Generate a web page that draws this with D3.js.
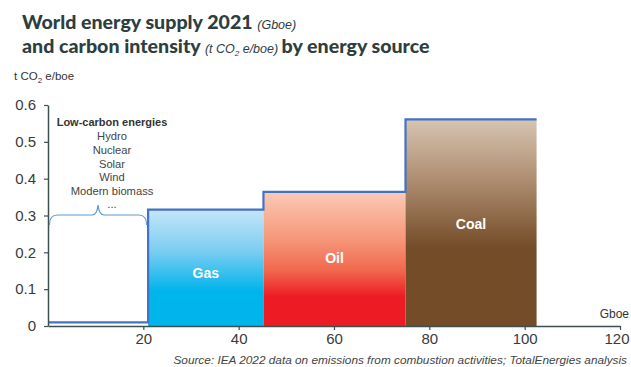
<!DOCTYPE html>
<html><head><meta charset="utf-8">
<script src="https://cdn.jsdelivr.net/npm/d3@7"></script>
<style>body{margin:0;background:#fff}svg{display:block}</style>
</head><body>
<svg id="c" width="631" height="367"></svg>
<script>
const sources = ["Low-carbon", "Gas", "Oil", "Coal"];
const supply = [21, 24.2, 29.8, 27.5];           // Gboe (bar widths)
const intensity = [0.01, 0.316, 0.364, 0.561];   // t CO2e/boe
const labels = ["", "Gas", "Oil", "Coal"];
const xTicks = [20, 40, 60, 80, 100, 120];
const yTicks = [0, 0.1, 0.2, 0.3, 0.4, 0.5, 0.6];
const lowCarbonList = ["Hydro", "Nuclear", "Solar", "Wind", "Modern biomass", "..."];

const svg = d3.select("#c");
const x = d3.scaleLinear().domain([0, 120]).range([48, 620]);
const y = d3.scaleLinear().domain([0, 0.6]).range([326, 105]);
const sans = "Liberation Sans, Arial, sans-serif";

const starts = [];
let acc = 0;
supply.forEach(v => { starts.push(acc); acc += v; });
const data = sources.map((s, i) => ({s, x0: starts[i], x1: starts[i] + supply[i], v: intensity[i], label: labels[i]}));

// gradients
const defs = svg.append("defs");
const grads = {
  Gas: [["0%", "#c4e6f8"], ["35%", "#7dcdf2"], ["70%", "#00b4ec"], ["100%", "#00b4ec"]],
  Oil: [["0%", "#fbcab6"], ["35%", "#f6977a"], ["58%", "#f16a4f"], ["78%", "#ed1c24"], ["100%", "#ed1c24"]],
  Coal: [["0%", "#d6c4b2"], ["30%", "#ad8c6f"], ["62%", "#744c28"], ["100%", "#744c28"]]
};
Object.entries(grads).forEach(([k, stops]) => {
  const g = defs.append("linearGradient").attr("id", "g" + k).attr("x1", 0).attr("y1", 0).attr("x2", 0).attr("y2", 1);
  stops.forEach(([o, c]) => g.append("stop").attr("offset", o).attr("stop-color", c));
});

// bars
svg.append("g").selectAll("rect").data(data.filter(d => d.s !== "Low-carbon")).join("rect")
  .attr("x", d => x(d.x0)).attr("width", d => x(d.x1) - x(d.x0))
  .attr("y", d => y(d.v)).attr("height", d => y(0) - y(d.v))
  .attr("fill", d => `url(#g${d.s})`);

// step outline
let p = d3.path();
p.moveTo(x(0), y(data[0].v));
data.forEach((d, i) => {
  if (i > 0) p.lineTo(x(d.x0), y(d.v));
  p.lineTo(x(d.x1), y(d.v));
});
svg.append("path").attr("d", p.toString()).attr("fill", "none")
  .attr("stroke", "#4472c4").attr("stroke-width", 2.2);

// bar labels
svg.append("g").selectAll("text").data(data.filter(d => d.label)).join("text")
  .attr("x", d => (x(d.x0) + x(d.x1)) / 2)
  .attr("y", d => ({Gas: 278, Oil: 263, Coal: 229})[d.s])
  .attr("text-anchor", "middle").attr("fill", "#fff")
  .attr("font-family", sans).attr("font-weight", "bold").attr("font-size", 14)
  .text(d => d.label);

// axes
const axisColor = "#3d4f4f";
const gy = svg.append("g").attr("transform", `translate(${x(0)},0)`)
  .call(d3.axisLeft(y).tickValues(yTicks).tickSize(4).tickSizeOuter(0).tickPadding(8).tickFormat(d => d === 0 ? "0" : d3.format(".1f")(d)));
const gx = svg.append("g").attr("transform", `translate(0,${y(0)})`)
  .call(d3.axisBottom(x).tickValues(xTicks).tickSize(4).tickSizeOuter(0).tickPadding(3));
[gx, gy].forEach(g => {
  g.select(".domain").attr("stroke", axisColor).attr("stroke-width", 1.5);
  g.selectAll(".tick line").attr("stroke", axisColor).attr("stroke-width", 1.2);
  g.selectAll(".tick text").attr("fill", "#3a3a3a").attr("font-size", 15).attr("font-family", sans);
});
gx.selectAll(".tick text").filter(d => d === 120).attr("text-anchor", "end").attr("x", 9);

// axis titles
const yl = svg.append("text").attr("x", 14).attr("y", 80).attr("fill", "#333")
  .attr("font-family", sans).attr("font-size", 11.5);
yl.append("tspan").text("t CO");
yl.append("tspan").attr("font-size", 8).attr("dy", 3).text("2");
yl.append("tspan").attr("dy", -3).text(" e/boe");
svg.append("text").attr("x", 629).attr("y", 318).attr("text-anchor", "end").attr("fill", "#333")
  .attr("font-family", sans).attr("font-size", 12).text("Gboe");

// title
const tf = "Lato, 'Open Sans', sans-serif";
const tsz = 19.6, isz = 12.5;
const t1 = svg.append("text").attr("x", 22).attr("y", 29).attr("fill", "#2d3e3f").attr("font-family", tf);
t1.append("tspan").attr("font-weight", "900").attr("font-size", tsz).text("World energy supply 2021 ");
t1.append("tspan").attr("font-family", sans).attr("font-style", "italic").attr("font-size", isz).text("(Gboe)");
const t2 = svg.append("text").attr("x", 22).attr("y", 53).attr("fill", "#2d3e3f").attr("font-family", tf);
t2.append("tspan").attr("font-weight", "900").attr("font-size", tsz).text("and carbon intensity ");
t2.append("tspan").attr("font-family", sans).attr("font-style", "italic").attr("font-size", isz).text("(t CO");
t2.append("tspan").attr("font-family", sans).attr("font-style", "italic").attr("font-size", 8).attr("dy", 3).text("2");
t2.append("tspan").attr("font-family", sans).attr("font-style", "italic").attr("font-size", isz).attr("dy", -3).text(" e/boe) ");
t2.append("tspan").attr("font-weight", "900").attr("font-size", tsz).text("by energy source");

// low-carbon annotation
const tx = 112;
svg.append("text").attr("x", tx).attr("y", 126).attr("text-anchor", "middle").attr("fill", "#333")
  .attr("font-family", sans).attr("font-weight", "bold").attr("font-size", 11)
  .text("Low-carbon energies");
svg.append("g").selectAll("text").data(lowCarbonList).join("text")
  .attr("x", tx).attr("y", (d, i) => 140 + i * 13.8 - (i === 5 ? 1 : 0)).attr("text-anchor", "middle").attr("fill", "#444")
  .attr("font-family", sans).attr("font-size", 11.2).text(d => d);

// brace
const bx0 = x(0.3), bx1 = x(20.7), bm = x(10.5), by = 215;
const bp = `M${bx0},${by + 10} Q${bx0},${by} ${bx0 + 8},${by} L${bm - 6},${by} Q${bm - 1},${by} ${bm},${by - 10} Q${bm + 1},${by} ${bm + 6},${by} L${bx1 - 8},${by} Q${bx1},${by} ${bx1},${by + 10}`;
svg.append("path").attr("d", bp).attr("fill", "none").attr("stroke", "#5b9bd5").attr("stroke-width", 1.2);

// source
svg.append("text").attr("x", 627).attr("y", 364).attr("text-anchor", "end").attr("fill", "#444")
  .attr("font-family", sans).attr("font-style", "italic").attr("font-size", 11.8)
  .text("Source: IEA 2022 data on emissions from combustion activities; TotalEnergies analysis");
</script>
</body></html>
